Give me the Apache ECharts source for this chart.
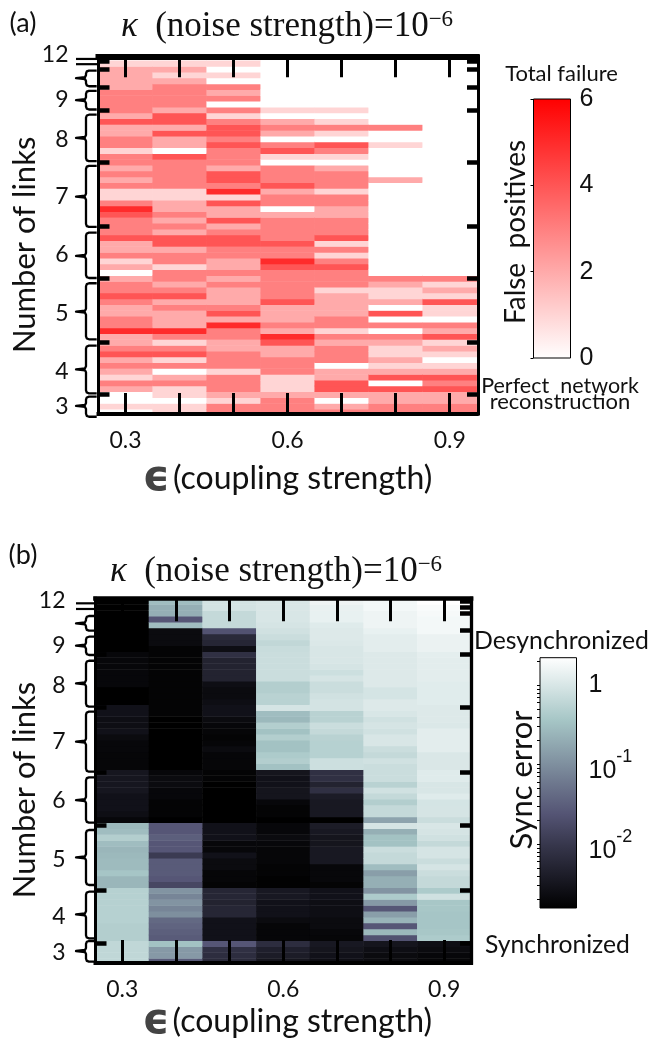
<!DOCTYPE html>
<html><head><meta charset="utf-8">
<style>html,body{margin:0;padding:0;background:#fff}#c{width:650px;height:1041px}</style>
<script src="https://cdn.jsdelivr.net/npm/echarts@6/dist/echarts.min.js"></script>
</head><body><div id="c"></div>
<script>
// Coupling strengths (columns) and tick labels
const couplingValues = ['0.3','0.4','0.5','0.6','0.7','0.8','0.9'];
const couplingTicks = [0.3,0.4,0.5,0.6,0.7,0.8,0.9];
const couplingLabels = [0.3,0.6,0.9];
const linkLabels = ['3','4','5','6','7','8','9','12'];

// Panel (a): false positives, one array per coupling strength, bottom row first
const falseEps03 = [0,1,0,0,2,3,1,2,3,2, 4,3,2,2,5,3,3,2,2,3, 4,3,3,2,0,2,1,3,2,2, 4,3,3,3,4,5,3,1,1,3, 2,3,2,3,3,1,3,3,2,2, 4,2,3,3,3,3,2,2,2,2, 1];
const falseEps04 = [1,1,0,1,1,3,2,0,3,1, 4,3,1,3,5,2,2,2,3,2, 4,3,2,3,3,1,3,3,2,4, 4,2,3,2,3,2,2,1,1,3, 3,3,3,3,4,0,2,2,4,2, 4,4,2,3,3,3,3,2,1,2, 1];
const falseEps05 = [3,3,1,2,3,3,3,1,3,3, 3,2,2,3,3,5,2,4,3,2, 2,2,3,2,3,2,2,3,3,4, 4,3,2,4,2,2,4,1,5,3, 4,4,2,3,3,3,4,3,4,4, 3,1,3,0,3,2,3,0,1,0, 1];
const falseEps06 = [3,3,3,2,1,1,1,3,3,3, 2,2,4,5,2,3,2,2,2,4, 3,3,3,3,3,4,5,3,3,4, 3,3,3,3,2,0,3,3,2,4, 3,3,3,0,1,4,3,0,2,3, 2,0,1,0,0,0,0,0,0,0, 0];
const falseEps07 = [3,2,0,2,4,4,2,2,0,3, 3,3,2,3,1,3,3,2,2,2, 2,1,3,3,3,4,3,1,3,1, 4,3,3,3,2,2,3,3,1,3, 3,3,2,0,1,3,4,0,1,3, 1,0,1,0,0,0,0,0,0,0, 0];
const falseEps08 = [3,3,2,2,4,0,4,2,1,2, 1,1,2,3,0,3,0,4,0,2, 1,1,2,3,0,0,0,0,0,0, 0,0,0,0,0,0,0,0,0,0, 2,0,0,0,0,0,1,0,0,3, 0,0,0,0,0,0,0,0,0,0, 0];
const falseEps09 = [3,3,2,2,4,3,4,2,1,0, 1,2,1,4,2,3,0,1,1,4, 1,2,1,3,0,0,0,0,0,0, 0,0,0,0,0,0,0,0,0,0, 0,0,0,0,0,0,0,0,0,0, 0,0,0,0,0,0,0,0,0,0, 0];
const falseColumns = [falseEps03,falseEps04,falseEps05,falseEps06,falseEps07,falseEps08,falseEps09];

// Panel (b): log10 of the sync error, one array per coupling strength, bottom sliver first
const syncEps03 = [-.22,-.22,-.22,-.22,-.33,-.33,-.33,-.3,-.3,-.3, -.3,-.3,-.3,-.61,-.61,-.45,-.55,-.55,-.58,-.61, -.53,-.33,-.53,-.58,-2.7,-2.6,-2.55,-2.55,-2.55,-2.48, -2.48,-2.48,-2.48,-2.72,-2.72,-2.72,-2.7,-2.7,-2.65,-2.55, -2.6,-2.6,-2.55,-2.55,-2.8,-2.8,-2.8,-2.7,-2.7,-2.7, -2.7,-2.7,-2.7,-2.8,-2.8,-2.8,-2.8,-2.8,-2.8,-2.8, -2.8,-2.8];
const syncEps04 = [-1.55,-.9,-.9,-.48,-1.55,-1.5,-1.45,-1.4,-1,-1.1, -.95,-1.1,-.95,-1.8,-1.6,-1.55,-1.55,-1.55,-1.95,-1.6, -1.6,-1.5,-1.6,-1.6,-2.8,-2.75,-2.75,-2.75,-2.7,-2.7, -2.65,-2.65,-2.7,-2.8,-2.8,-2.8,-2.8,-2.8,-2.8,-2.8, -2.8,-2.8,-2.75,-2.75,-2.75,-2.75,-2.75,-2.75,-2.75,-2.75, -2.75,-2.75,-2.75,-2.75,-2.65,-2.65,-2.65,-.53,-1.6,-.68, -.68,-.53];
const syncEps05 = [-2.2,-2.15,-2.1,-1.6,-2.55,-2.55,-2.55,-2.55,-2.25,-2.25, -2.3,-2.25,-2.25,-2.75,-2.72,-2.72,-2.65,-2.65,-2.55,-2.7, -2.7,-2.55,-2.55,-2.55,-2.8,-2.8,-2.8,-2.8,-2.8,-2.8, -2.8,-2.75,-2.75,-2.72,-2.72,-2.72,-2.65,-2.72,-2.75,-2.72, -2.7,-2.65,-2.55,-2.55,-2.6,-2.65,-2.65,-2.6,-2.3,-2.3, -2.3,-2.3,-2.1,-2.6,-2.25,-2.2,-1.65,-.18,-.18,-.18, -.05,-.05];
const syncEps06 = [-2.5,-2.4,-2.35,-2.15,-2.72,-2.72,-2.72,-2.65,-2.55,-2.55, -2.55,-2.45,-2.45,-2.78,-2.78,-2.75,-2.75,-2.72,-2.72,-2.72, -2.7,-2.65,-2.7,-2.7,-2.8,-2.75,-2.75,-2.7,-2.5,-2.5, -2.55,-2.55,-2.5,-.48,-.33,-.38,-.48,-.48,-.33,-.48, -.33,-.58,-.53,-.03,-.28,-.28,-.33,-.33,-.13,-.13, -.13,-.13,-.13,-.15,-.21,-.13,-.08,-.03,-.01,-.01, -.01,-.01];
const syncEps07 = [-2.6,-2.55,-2.5,-2.45,-2.72,-2.7,-2.65,-2.65,-2.6,-2.6, -2.6,-2.55,-2.55,-2.75,-2.7,-2.7,-2.7,-2.45,-2.45,-2.45, -2.5,-2.5,-2.45,-2.4,-2.8,-2.45,-2.45,-2.45,-2.4,-2.1, -2.3,-2.1,-2.1,-.11,-.11,-.3,-.3,-.3,-.28,-.18, -.13,-.28,-.28,-.05,-.05,-.08,-.13,-.13,-.03,-.11, -.03,-.01,-.01,-.01,.02,.04,.04,.06,.14,.14, .14,.19];
const syncEps08 = [-2.65,-2.65,-2.6,-2.5,-1.65,-.58,-1.6,-.63,-.85,-1.6, -.9,-.38,-.95,-.68,-.68,-.85,-.53,-.18,-.18,-.13, -.48,-.48,-.68,-.03,-.8,-.18,-.18,-.33,-.18,-.08, -.28,-.13,-.13,-.13,-.08,-.18,-.13,-.01,-.01,-.08, -.03,-.08,-.01,.04,.04,-.04,-.04,.04,.04,.04, .04,.04,.04,.09,.09,.09,.14,.19,.19,.19, .24,.24];
const syncEps09 = [-2.72,-2.7,-2.65,-2.6,-.38,-.43,-.45,-.45,-.45,-.43, -.43,-.08,-.38,-.18,-.18,-.13,-.03,-.13,-.03,-.03, -.18,-.08,-.03,-.01,-.13,-.03,-.03,-.04,.06,-.01, -.01,.06,.06,.01,.01,.01,.09,.09,.09,.09, .02,.04,.04,.04,.07,.07,.07,.07,.09,.09, .09,.09,.1,.16,.16,.16,.24,.24,.24,.26, .29,.34];
const syncColumns = [syncEps03,syncEps04,syncEps05,syncEps06,syncEps07,syncEps08,syncEps09];

// Axis and colour-scale ticks
const falseTicks = [0,2,4,6];
const syncLabelTicks = [-2,-1,0];
const syncMinorTicks = [-2.7,-2.52,-2.4,-2.3,-2.22,-2.15,-2.1,-2.05,-2,-1.7,-1.52,-1.4,-1.3,-1.22,-1.15,-1.1,-1.05,-1,-.7,-.52,-.4,-.3,-.22,-.15,-.1,-.05,0,.3];
const redMap = ['#ffffff','#ff0000'];
const boneMap = ['#000000','#1b1b26','#36364b','#545474','#6e788e','#8a9faa','#a6c6c6','#d3e3e3','#ffffff'];

// Brace guides in row units: [tip, low, high]
const bracesA = [[1.57,-.28,3.17],[7.88,3.75,11.95],[17.8,13.05,22.69],[27.4,23.6,31.4],[37.6,32.4,42.9],[47.7,43.7,51.7],[54.2,52.6,55.8],[58,56.6,59.3]];
const dashesA = [61.3,60.4];
const labelRowsA = [1.45,7.47,17.4,27.68,37.6,47.35,54.23,62.1];
const boundaryTicksA = [3.63,12.58,23.6,32.46,43.56,52.5,56.5,59.45,60.9];
const bracesB = [[1.27,-.54,2.97],[7.49,3.42,11.32],[17.15,12.46,21.78],[26.86,23.02,30.71],[36.75,31.66,41.83],[46.64,42.68,50.47],[53.02,51.44,54.54],[56.81,55.56,58.05]];
const dashesB = [60.2,59.24];
const labelRowsB = [.98,7.08,16.69,26.75,36.75,46.24,52.97,60.6];
const boundaryTicksB = [2.63,11.6,22.6,31.6,42.6,51.6,55.7,58.5,59.5,60.5];

const SANS = 'Lato', SERIF = 'Liberation Serif', ARIAL = 'Liberation Sans', INK = '#111111';
const W = 650, H = 1041;
const grids = [], xAxes = [], yAxes = [], series = [], visualMaps = [];

function rowIds(n){ return Array.from({length:n},(_,i)=>String(i)); }
function frameLine(w){ return {show:true,onZero:false,lineStyle:{color:'#000',width:w,cap:'square'}}; }

function addPanel(p){
  const base = grids.length;
  const free = {outerBoundsMode:'none'};
  // data grid
  grids.push(Object.assign({left:p.dataLeft, width:p.dataWidth, top:p.dataBottom-p.rowH*p.columns[0].length, height:p.rowH*p.columns[0].length},free));
  xAxes.push({type:'category',gridIndex:base,show:false,data:couplingValues});
  yAxes.push({type:'category',gridIndex:base,show:false,data:rowIds(p.columns[0].length)});
  const cells = [];
  p.columns.forEach((col,c)=>col.forEach((v,r)=>cells.push([c,r,v])));
  series.push({type:'heatmap',name:p.name,xAxisIndex:xAxes.length-1,yAxisIndex:yAxes.length-1,data:cells,progressive:0,itemStyle:{borderWidth:0},emphasis:{disabled:true}});
  visualMaps.push({show:false,seriesIndex:series.length-1,dimension:2,min:p.vmin,max:p.vmax,inRange:{color:p.colors}});

  // frame grid
  const fi = base+1;
  grids.push(Object.assign({left:p.frameLeft,width:p.frameRight-p.frameLeft,top:p.frameTop,height:p.frameBottom-p.frameTop},free));
  const xTick = {show:true,inside:true,length:p.xTickLen,customValues:couplingTicks,lineStyle:{color:'#000',width:3}};
  xAxes.push({type:'value',gridIndex:fi,position:'bottom',z:10,min:.25,max:.95,axisLine:frameLine(p.fw.bottom),axisTick:xTick,splitLine:{show:false},
    axisLabel:{show:true,customValues:couplingLabels,margin:p.xLabelMargin,fontFamily:SANS,fontSize:23,color:INK,formatter:v=>v.toFixed(1)},
    name:'{e|\u03F5}{t|(coupling strength)}',nameLocation:'middle',nameGap:p.xNameGap,nameMoveOverlap:false,
    nameTextStyle:{padding:[0,0,0,p.xNamePad],rich:{e:{fontFamily:'DejaVu Sans',fontSize:42,fontWeight:'bold',color:'#444444',padding:[0,3,0,0]},t:{fontFamily:SANS,fontSize:32,color:INK}}}});
  xAxes.push({type:'value',gridIndex:fi,position:'top',z:10,min:.25,max:.95,axisLine:frameLine(p.fw.top),axisTick:xTick,axisLabel:{show:false},splitLine:{show:false}});
  const yTick = {show:true,inside:true,length:11,customValues:p.boundaryTicks,lineStyle:{color:'#000',width:4.5}};
  yAxes.push({type:'value',gridIndex:fi,position:'left',z:10,min:p.uMin,max:p.uMax,axisLine:frameLine(p.fw.left),axisTick:yTick,axisLabel:{show:false},splitLine:{show:false}});
  yAxes.push({type:'value',gridIndex:fi,position:'right',z:10,offset:p.rightOffset,min:p.uMin,max:p.uMax,axisLine:frameLine(p.fw.right),axisTick:yTick,axisLabel:{show:false},splitLine:{show:false}});

  // guide grid: braces and row labels, same row scale as the data
  const gi = base+2;
  const gTop = p.rowZero-p.rowH*64, gBottom = p.rowZero-p.rowH*p.gMin;
  grids.push(Object.assign({left:p.frameLeft,width:p.frameRight-p.frameLeft,top:gTop,height:gBottom-gTop},free));
  xAxes.push({type:'value',gridIndex:gi,show:false,min:0,max:1});
  const gIdx = yAxes.length;
  yAxes.push({type:'value',gridIndex:gi,position:'left',min:p.gMin,max:64,axisLine:{show:false},axisTick:{show:false},splitLine:{show:false},
    axisLabel:{show:true,customValues:p.labelRows,margin:30,fontFamily:SANS,fontSize:23,color:INK,
      formatter:v=>{const i=p.labelRows.findIndex(r=>Math.abs(r-v)<1e-6);return i>=0?linkLabels[i]:'';}},
    name:'Number of links',nameLocation:'middle',nameGap:p.yNameGap,nameRotate:90,nameMoveOverlap:false,nameTextStyle:{fontFamily:SANS,fontSize:31,color:INK}});
  series.push({type:'custom',name:p.name+' braces',xAxisIndex:xAxes.length-1,yAxisIndex:gIdx,clip:false,silent:true,z:12,data:p.braces,
    renderItem:(params,api)=>{
      const x0 = api.coord([0,0])[0];
      const v = x0-p.braceV, e = x0-p.braceEnd, t = x0-p.braceTip;
      const tip = api.coord([0,api.value(0)])[1], lo = api.coord([0,api.value(1)])[1], hi = api.coord([0,api.value(2)])[1];
      return {type:'polyline',silent:true,shape:{points:[[e,hi],[v+3,hi],[v+.8,hi+.8],[v,hi+3],[v,tip-3],[v-1,tip-1],[t,tip],[v-1,tip+1],[v,tip+3],[v,lo-3],[v+.8,lo-.8],[v+3,lo],[e,lo]]},
        style:{stroke:'#000',lineWidth:2.3,fill:null,lineJoin:'round'}};
    }});
  series.push({type:'custom',name:p.name+' dashes',xAxisIndex:xAxes.length-1,yAxisIndex:gIdx,clip:false,silent:true,z:12,data:p.dashes.map(d=>[d]),
    renderItem:(params,api)=>{
      const x0 = api.coord([0,0])[0], y = api.coord([0,api.value(0)])[1];
      return {type:'line',silent:true,shape:{x1:x0-p.braceTip,y1:y,x2:x0-1,y2:y},style:{stroke:'#000',lineWidth:2.2}};
    }});

  // colour bar grid
  const bi = base+3;
  grids.push(Object.assign({left:p.barLeft,width:p.barWidth,top:p.barTop,height:p.barHeight},free));
  xAxes.push({type:'value',gridIndex:bi,show:false,min:0,max:1});
  yAxes.push({type:'value',gridIndex:bi,position:'right',min:p.vmin,max:p.vmax,z:6,axisLine:{show:false},splitLine:{show:false},
    axisTick:{show:true,inside:true,length:3,customValues:p.barTicks,lineStyle:{color:'#000',width:1}},
    axisLabel:{show:true,customValues:p.barLabels,margin:p.barMargin,fontFamily:ARIAL,fontSize:p.barFont,color:INK,formatter:p.barFormat,
      rich:{b:{fontFamily:ARIAL,fontSize:p.barFont,color:INK},d:{fontFamily:ARIAL,fontSize:p.barFont,color:INK,padding:[14,0,0,0]},s:{fontFamily:ARIAL,fontSize:18,color:INK,padding:[0,0,14,0]}}}});
  const stops = p.colors.map((c,i)=>({offset:i/(p.colors.length-1),color:c}));
  series.push({type:'custom',name:p.name+' scale',xAxisIndex:xAxes.length-1,yAxisIndex:yAxes.length-1,silent:true,z:3,data:[[p.vmin,p.vmax]],
    renderItem:(params,api)=>{
      const a = api.coord([0,api.value(0)]), b = api.coord([1,api.value(1)]);
      return {type:'rect',silent:true,shape:{x:a[0],y:b[1],width:b[0]-a[0],height:a[1]-b[1]},
        style:{fill:new echarts.graphic.LinearGradient(0,1,0,0,stops),stroke:'#000',lineWidth:1}};
    }});
}

addPanel({name:'false positives',columns:falseColumns,colors:redMap,vmin:0,vmax:6,
  dataLeft:98.7,dataWidth:378,dataBottom:415.1,rowZero:415.1,rowH:5.81,
  frameLeft:98.5,frameRight:476.7,frameTop:56.3,frameBottom:414,fw:{top:6,bottom:4,left:3,right:3},rightOffset:1.3,
  uMin:(415.1-414)/5.81,uMax:(415.1-56.3)/5.81,gMin:-5.4,
  xTickLen:21,xLabelMargin:15,xNameGap:44,xNamePad:0,yNameGap:58,
  boundaryTicks:boundaryTicksA,braces:bracesA,dashes:dashesA,labelRows:labelRowsA,
  braceV:12.5,braceEnd:1.8,braceTip:22.5,
  barLeft:533.5,barWidth:37,barTop:99,barHeight:259,barTicks:falseTicks,barLabels:falseTicks,barMargin:9,barFont:25,barFormat:v=>String(v)});

addPanel({name:'sync error',columns:syncColumns,colors:boneMap,vmin:-2.805,vmax:.343,
  dataLeft:95.3,dataWidth:375.7,dataBottom:964.4,rowZero:958.5,rowH:5.9,
  frameLeft:95.5,frameRight:471,frameTop:598.3,frameBottom:963,fw:{top:4.7,bottom:4,left:3,right:3.3},rightOffset:0,
  uMin:(958.5-963)/5.9,uMax:(958.5-598.3)/5.9,gMin:-6.88,
  xTickLen:23,xLabelMargin:15,xNameGap:38,xNamePad:8,yNameGap:55,
  boundaryTicks:boundaryTicksB,braces:bracesB,dashes:dashesB,labelRows:labelRowsB,
  braceV:9.5,braceEnd:1.5,braceTip:19.5,
  barLeft:540,barWidth:36.5,barTop:657.7,barHeight:250.3,barTicks:syncMinorTicks,barLabels:syncLabelTicks,barMargin:12,barFont:25,
  barFormat:v=>{const d=Math.round(v);return d===0?'{b|1}':'{d|10}{s|'+d+'}';}});

function label(text,x,y,size,opts){
  return Object.assign({type:'text',x:x,y:y,z:20,silent:true,rotation:(opts&&opts.rot)||0,
    style:Object.assign({text:text,fontFamily:SANS,fontSize:size,fill:INK,align:'center',verticalAlign:'middle'},(opts&&opts.style)||{})});
}
const titleRich = {k:{fontFamily:SERIF,fontStyle:'italic',fontSize:35,fill:INK},t:{fontFamily:SERIF,fontSize:35,fill:INK},s:{fontFamily:SERIF,fontSize:23,fill:INK,padding:[0,0,15,0]}};
const titleText = '{k|\u03BA}{t|  (noise strength)=10}{s|\u22126}';
const graphics = [
  label('(a)',23,23,27),
  label('(b)',23,555,27),
  label(titleText,287,27,33,{style:{rich:titleRich}}),
  label(titleText,276,572,33,{style:{rich:titleRich}}),
  label('Total failure',561.5,74,22),
  label('False  positives',516,232,28,{rot:Math.PI/2}),
  label('Perfect  network',560,386,21.5),
  label('reconstruction',560,402,22),
  label('Desynchronized',561.5,641.5,24.8),
  label('Synchronized',557.5,945,24.7),
  label('Sync error',521.5,780,31,{rot:Math.PI/2})
];

const chart = echarts.init(document.getElementById('c'),null,{renderer:'canvas',width:W,height:H});
chart.setOption({animation:false,backgroundColor:'#ffffff',tooltip:{show:false},grid:grids,xAxis:xAxes,yAxis:yAxes,visualMap:visualMaps,series:series,graphic:graphics});
</script></body></html>
